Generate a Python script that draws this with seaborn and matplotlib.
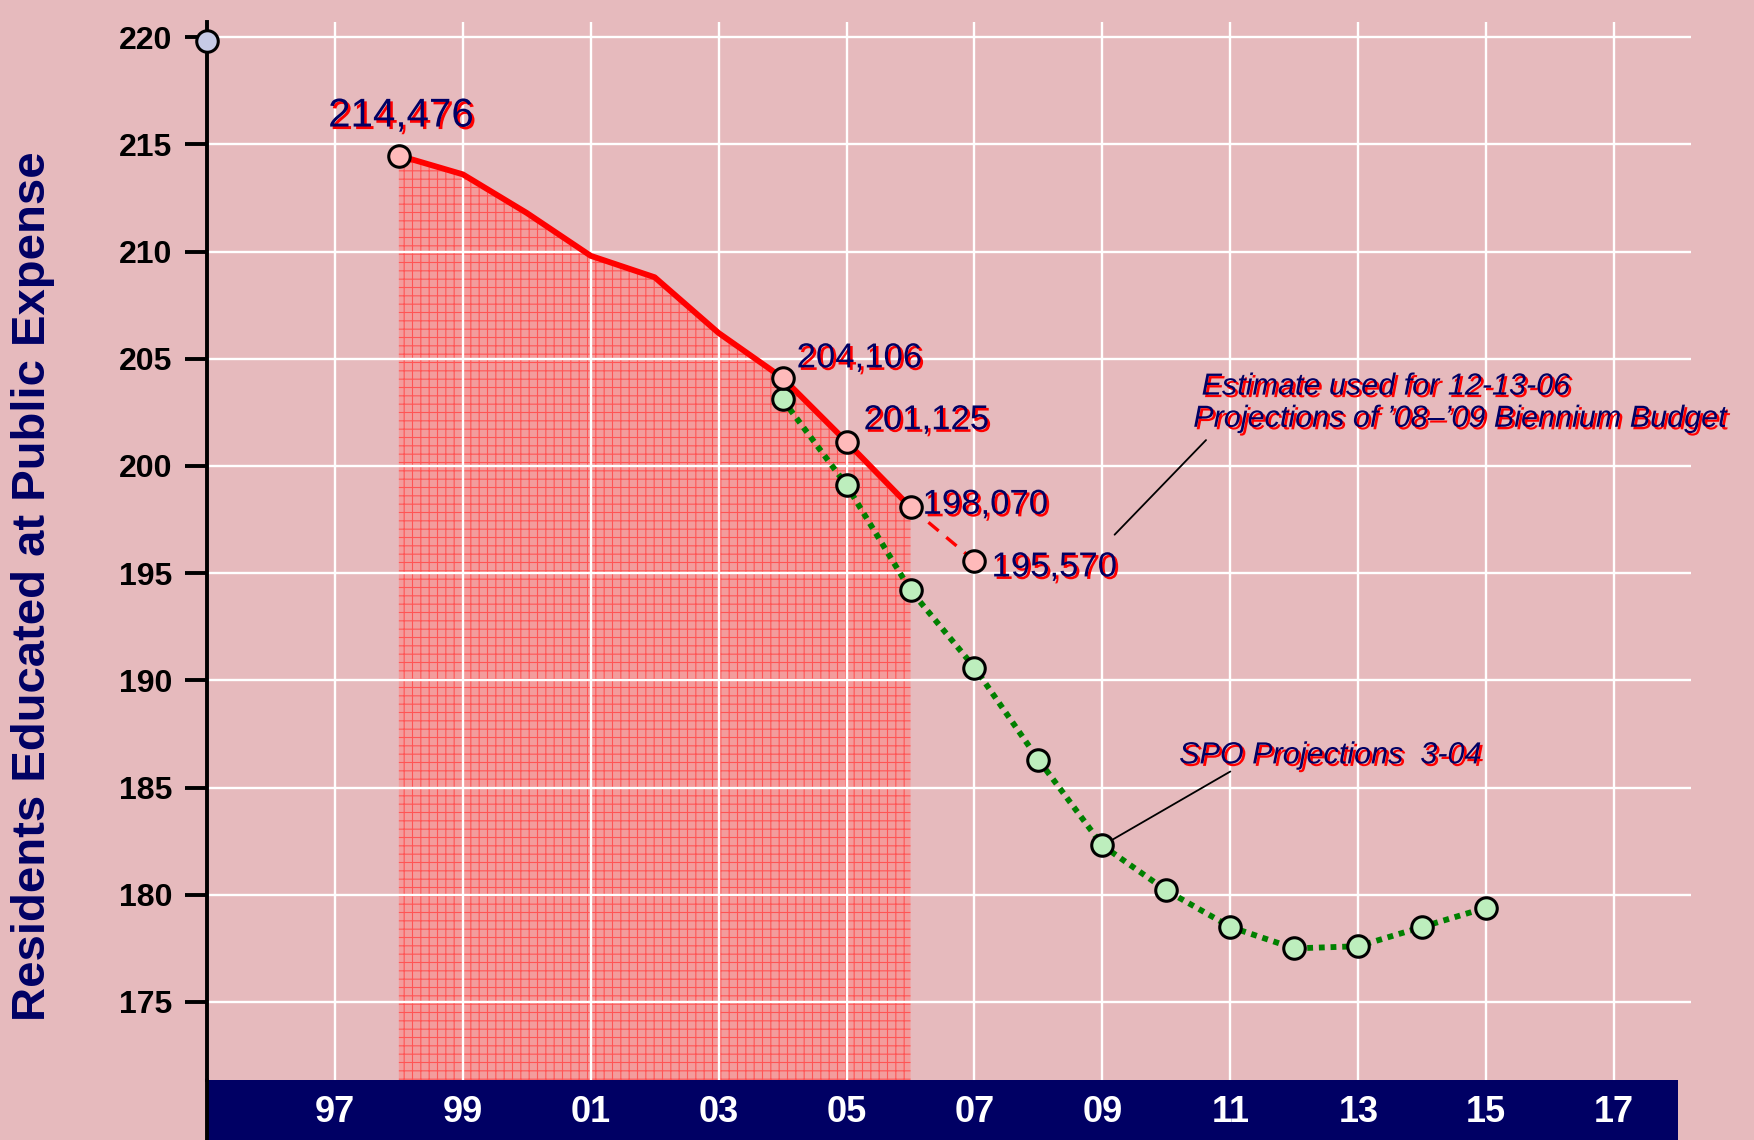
import numpy as np
import pandas as pd
import matplotlib
matplotlib.use("Agg")
import matplotlib.pyplot as plt
import matplotlib.patheffects as pe
from matplotlib.patches import Rectangle
from matplotlib.lines import Line2D
import seaborn as sns

# Actual residents educated at public expense (thousands), 1998-2006
actual_years = [1998, 1999, 2000, 2001, 2002, 2003, 2004, 2005, 2006]
actual_values = [214.476, 213.6, 211.8, 209.8, 208.8, 206.2, 204.106, 201.125, 198.070]

# Points on the actual line that carry a marker and a label
marked_years = [1998, 2004, 2005, 2006]
marked_values = [214.476, 204.106, 201.125, 198.070]
marked_labels = ["214,476", "204,106", "201,125", "198,070"]

# Estimate used for the '08-'09 biennium budget
estimate_years = [2006, 2007]
estimate_values = [198.070, 195.570]
estimate_label = "195,570"

# SPO projections 3-04
spo_years = [2004, 2005, 2006, 2007, 2008, 2009, 2010, 2011, 2012, 2013, 2014, 2015]
spo_values = [203.1, 199.1, 194.2, 190.6, 186.3, 182.3, 180.2, 178.5, 177.5, 177.6, 178.5, 179.4]

# Lone marker at the top of the axis
origin_years = [1995]
origin_values = [219.8]

x_ticks = list(range(1997, 2018, 2))
y_ticks = list(range(175, 221, 5))

BG = "#e6babd"
NAVY = "#000064"
NARROW = ["Liberation Sans Narrow", "Liberation Sans", "DejaVu Sans"]

sns.set_theme(style="white")
plt.rcParams["font.family"] = ["Liberation Sans", "DejaVu Sans"]
plt.rcParams["hatch.linewidth"] = 0.8

fig = plt.figure(figsize=(17.54, 11.40), dpi=100)
fig.patch.set_facecolor(BG)
ax = fig.add_axes([0.118, 0.0526, 0.846, 0.928])
ax.set_facecolor(BG)

# shaded area under the actual line
ax.fill_between(actual_years, actual_values, 160, facecolor="#f39c9c",
                edgecolor="#ff5555", hatch="++", linewidth=0, zorder=0.4)

shadow = [pe.withSimplePatchShadow(offset=(1.8, -1.8), shadow_rgbFace="red", alpha=1.0)]

# lines
sns.lineplot(x=spo_years, y=spo_values, ax=ax, color="#008000", linewidth=4.2,
             linestyle=(0, (1.0, 1.0)), zorder=3)
sns.lineplot(x=actual_years, y=actual_values, ax=ax, color="#ff0000", linewidth=4.2, zorder=3)
sns.lineplot(x=estimate_years, y=estimate_values, ax=ax, color="#ff0000", linewidth=2.4,
             linestyle=(0, (4, 3)), zorder=3)

# markers
mk = dict(s=240, edgecolor="black", linewidth=2.2, zorder=6, clip_on=False, ax=ax)
sns.scatterplot(x=spo_years, y=spo_values, color="#bdeebd", **mk)
sns.scatterplot(x=marked_years + estimate_years[1:], y=marked_values + estimate_values[1:],
                color="#ffbaba", **mk)
sns.scatterplot(x=origin_years, y=origin_values, color="#c6cae6", **mk)

# value labels
offsets = [(2, 40, "center"), (14, 20, "left"), (17, 22, "left"), (12, 3, "left")]
for yr, val, lab, (dx, dy, ha) in zip(marked_years, marked_values, marked_labels, offsets):
    size = 29 if ha == "center" else 25
    ax.annotate(lab, (yr, val), xytext=(dx, dy), textcoords="offset pixels",
                ha=ha, va="center", fontsize=size, color=NAVY, path_effects=shadow, zorder=7)
ax.annotate(estimate_label, (estimate_years[1], estimate_values[1]), xytext=(17, -6),
            textcoords="offset pixels", ha="left", va="center", fontsize=25,
            color=NAVY, path_effects=shadow, zorder=7)

# callouts
note_kw = dict(fontsize=22, style="italic", color=NAVY, path_effects=shadow, ha="left", va="center")
ax.text(2010.55, 203.7, "Estimate used for 12-13-06", **note_kw)
ax.text(2010.42, 202.2, "Projections of \u201908\u2013\u201909 Biennium Budget", **note_kw)
ax.annotate("", xy=(2009.16, 196.7), xytext=(2010.65, 201.3),
            arrowprops=dict(arrowstyle="-", color="black", lw=1.3))
ax.text(2010.2, 186.5, "SPO Projections  3-04", **note_kw)
ax.annotate("", xy=(spo_years[5], spo_values[5]), xytext=(2011.0, 185.75),
            arrowprops=dict(arrowstyle="-", color="black", lw=1.3, shrinkA=0, shrinkB=8))

# axes
ax.set_xlim(1995, 2018.2)
ax.set_ylim(171.36, 220.7)
ax.set_xticks(x_ticks)
ax.set_xticklabels([f"{y % 100:02d}" for y in x_ticks], fontsize=26, fontweight="bold",
                   color="white", family=NARROW)
ax.set_yticks(y_ticks)
ax.set_yticklabels([str(v) for v in y_ticks], fontsize=23, fontweight="bold",
                   color="black", family=NARROW)
ax.tick_params(axis="x", length=0, pad=11)
ax.tick_params(axis="y", length=16, width=2.8, color="black", pad=9, left=True)
ax.grid(True, color="white", linewidth=1.7)
ax.set_axisbelow(True)
for side in ["top", "right", "bottom"]:
    ax.spines[side].set_visible(False)
ax.spines["left"].set_color("black")
ax.spines["left"].set_linewidth(2.8)
ax.set_xlabel("")
ax.set_ylabel("")

# navy band behind the year labels
fig.add_artist(Rectangle((0.118, 0), 0.9567 - 0.118, 0.0526, transform=fig.transFigure,
                         facecolor=NAVY, edgecolor="none", zorder=-1))
fig.add_artist(Line2D([0.118, 0.118], [0, 0.0526], transform=fig.transFigure,
                      color="black", linewidth=2.8))

fig.text(0.0188, 0.486, "Residents Educated at Public Expense", rotation=90,
         ha="center", va="center", fontsize=34, fontweight="bold", color=NAVY)

fig.savefig("out.png", dpi=100, facecolor=BG)
